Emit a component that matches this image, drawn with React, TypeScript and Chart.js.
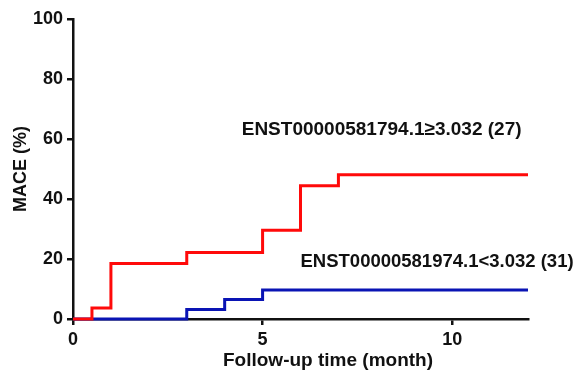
import React, { useEffect, useRef } from "react";
import { Chart, registerables } from "chart.js";

Chart.register(...registerables);

const highTimes = [0, 0.5, 1, 3, 5, 6, 7, 12];
const highValues = [0, 3.7, 18.5, 22.2, 29.6, 44.4, 48.1, 48.1];
const lowTimes = [0, 3, 4, 5, 12];
const lowValues = [0, 3.2, 6.5, 9.7, 9.7];
const highLabel = "ENST00000581794.1\u22653.032 (27)";
const lowLabel = "ENST00000581974.1<3.032 (31)";
const highLabelPos = { x: 4.45, y: 63 };
const lowLabelPos = { x: 6.0, y: 19 };
const yTitle = "MACE (%)";
const xTitle = "Follow-up time (month)";

const FONT = "'Liberation Sans', Arial, Helvetica, sans-serif";

export default function App() {
  const ref = useRef<HTMLCanvasElement | null>(null);
  useEffect(() => {
    if (!ref.current) return;
    const textPlugin = {
      id: "kmText",
      afterDraw(chart: any) {
        const ctx = chart.ctx;
        const xs = chart.scales.x;
        const ys = chart.scales.y;
        const ca = chart.chartArea;
        ctx.save();
        ctx.fillStyle = "#111";
        ctx.textAlign = "left";
        ctx.textBaseline = "middle";
        ctx.font = `bold 19px ${FONT}`;
        ctx.fillText(highLabel, xs.getPixelForValue(highLabelPos.x), ys.getPixelForValue(highLabelPos.y));
        ctx.font = `bold 18.5px ${FONT}`;
        ctx.fillText(lowLabel, xs.getPixelForValue(lowLabelPos.x), ys.getPixelForValue(lowLabelPos.y));
        ctx.font = `bold 19px ${FONT}`;
        ctx.textAlign = "center";
        ctx.fillText(xTitle, ca.left + 255, chart.height - 12);
        ctx.font = `bold 18px ${FONT}`;
        ctx.translate(21, (ca.top + ca.bottom) / 2);
        ctx.rotate(-Math.PI / 2);
        ctx.fillText(yTitle, 0, 0);
        ctx.restore();
      },
    };
    const chart = new Chart(ref.current, {
      type: "line",
      data: {
        datasets: [
          {
            data: highTimes.map((t, i) => ({ x: t, y: highValues[i] })),
            borderColor: "#ff0a0a",
            borderWidth: 3,
            stepped: "before",
            pointRadius: 0,
            fill: false,
            clip: false,
          },
          {
            data: lowTimes.map((t, i) => ({ x: t, y: lowValues[i] })),
            borderColor: "#0a14b4",
            borderWidth: 3,
            stepped: "before",
            pointRadius: 0,
            fill: false,
            clip: false,
          },
        ],
      },
      options: {
        responsive: false,
        animation: false,
        layout: { padding: { left: 0, top: 19, right: 54, bottom: 0 } },
        plugins: { legend: { display: false }, tooltip: { enabled: false } },
        scales: {
          x: {
            type: "linear",
            min: 0,
            max: 12,
            afterFit: (s: any) => { s.height = 54; },
            ticks: {
              stepSize: 5,
              includeBounds: false,
              color: "#111",
              padding: 4,
              font: { family: FONT, size: 18, weight: "bold" },
            },
            grid: { drawOnChartArea: false, drawTicks: true, tickLength: 6, color: "#111", lineWidth: 2.5 },
            border: { display: true, color: "#111", width: 2.5 },
          },
          y: {
            type: "linear",
            min: 0,
            max: 100,
            afterFit: (s: any) => { s.width = 73; },
            ticks: {
              stepSize: 20,
              color: "#111",
              padding: 4,
              font: { family: FONT, size: 18, weight: "bold" },
            },
            grid: { drawOnChartArea: false, drawTicks: true, tickLength: 6, color: "#111", lineWidth: 2.5 },
            border: { display: true, color: "#111", width: 2.5 },
          },
        },
      },
      plugins: [textPlugin],
    });
    return () => chart.destroy();
  }, []);
  return (
    <div style={{ position: "fixed", left: 0, top: 0, width: 582, height: 373, background: "#fff" }}>
      <canvas ref={ref} width={582} height={373} />
    </div>
  );
}
